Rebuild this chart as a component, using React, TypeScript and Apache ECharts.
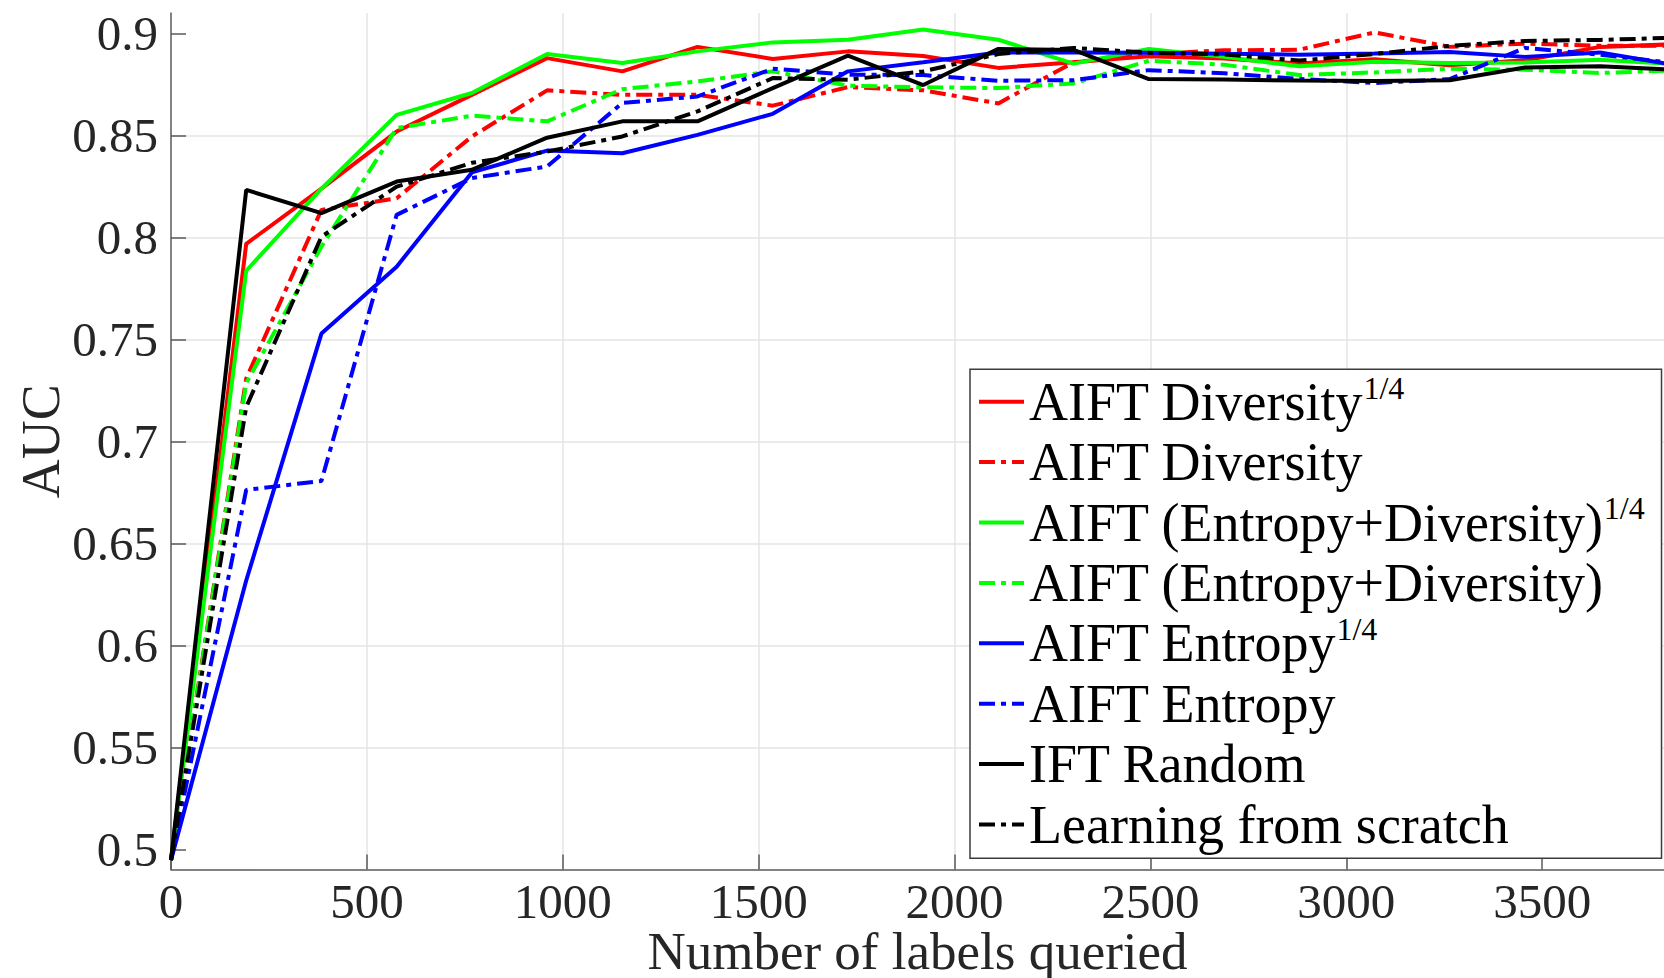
import React, { useEffect, useRef } from "react";
import * as echarts from "echarts";

// x values: number of labels queried
const labelsQueried = [0, 192, 384, 576, 768, 960, 1152, 1344, 1536, 1728, 1920, 2112, 2304, 2496, 2688, 2880, 3072, 3264, 3456, 3648, 3840];

const aiftDiversityQuarter = [0.495, 0.797, 0.824, 0.852, 0.870, 0.888, 0.8815, 0.8935, 0.8876, 0.8913, 0.889, 0.8832, 0.886, 0.8889, 0.8878, 0.8853, 0.8874, 0.8845, 0.8869, 0.8935, 0.8948];
const aiftDiversity = [0.495, 0.731, 0.8136, 0.8193, 0.8496, 0.8722, 0.870, 0.870, 0.8647, 0.8738, 0.8722, 0.8658, 0.886, 0.890, 0.8918, 0.8921, 0.9006, 0.8935, 0.8951, 0.894, 0.894];
const aiftEntDivQuarter = [0.495, 0.7838, 0.824, 0.8602, 0.8709, 0.890, 0.8856, 0.8913, 0.8957, 0.897, 0.902, 0.897, 0.8853, 0.8925, 0.8886, 0.884, 0.8862, 0.8856, 0.8859, 0.8872, 0.885];
const aiftEntDiv = [0.495, 0.7287, 0.7956, 0.8537, 0.8598, 0.857, 0.8728, 0.8766, 0.8815, 0.8745, 0.8737, 0.8733, 0.8756, 0.8867, 0.8848, 0.8797, 0.881, 0.8828, 0.8823, 0.8807, 0.882];
const aiftEntropyQuarter = [0.495, 0.632, 0.753, 0.7858, 0.832, 0.8427, 0.8414, 0.8504, 0.8607, 0.8815, 0.886, 0.8907, 0.8907, 0.8906, 0.8901, 0.8897, 0.8902, 0.891, 0.8886, 0.8908, 0.8845];
const aiftEntropy = [0.495, 0.6764, 0.6808, 0.8112, 0.8292, 0.8349, 0.866, 0.8692, 0.8828, 0.8799, 0.8797, 0.8769, 0.8772, 0.8821, 0.8806, 0.8778, 0.8758, 0.8777, 0.893, 0.8897, 0.8855];
const iftRandom = [0.495, 0.8234, 0.812, 0.8275, 0.8333, 0.849, 0.857, 0.857, 0.8733, 0.8892, 0.8748, 0.8925, 0.892, 0.8777, 0.8775, 0.877, 0.8768, 0.8771, 0.8834, 0.884, 0.8823];
const learningFromScratch = [0.495, 0.717, 0.8005, 0.825, 0.8367, 0.8422, 0.8496, 0.8619, 0.8782, 0.8774, 0.8815, 0.890, 0.893, 0.8906, 0.8898, 0.8868, 0.890, 0.894, 0.8964, 0.8969, 0.898];

const seriesNames = [
  "AIFT Diversity^1/4",
  "AIFT Diversity",
  "AIFT (Entropy+Diversity)^1/4",
  "AIFT (Entropy+Diversity)",
  "AIFT Entropy^1/4",
  "AIFT Entropy",
  "IFT Random",
  "Learning from scratch",
];
const seriesValues = [
  aiftDiversityQuarter,
  aiftDiversity,
  aiftEntDivQuarter,
  aiftEntDiv,
  aiftEntropyQuarter,
  aiftEntropy,
  iftRandom,
  learningFromScratch,
];

const xTickValues = [0, 500, 1000, 1500, 2000, 2500, 3000, 3500];
const yTickValues = [0.5, 0.55, 0.6, 0.65, 0.7, 0.75, 0.8, 0.85, 0.9];

const xAxisTitle = "Number of labels queried";
const yAxisTitle = "AUC";

const SERIF = "'Liberation Serif', 'Times New Roman', serif";

export default function App() {
  const ref = useRef<HTMLDivElement>(null);

  useEffect(() => {
    if (!ref.current) return;
    const chart = echarts.init(ref.current, undefined, { renderer: "svg" });

    const colors = ["#ff0000", "#ff0000", "#00ff00", "#00ff00", "#0000ff", "#0000ff", "#000000", "#000000"];
    const dashDot = [16, 6, 5, 6];
    const styles: any[] = ["solid", dashDot, "solid", dashDot, "solid", dashDot, "solid", dashDot];

    const series = seriesNames.map((name, i) => ({
      type: "line",
      name,
      data: labelsQueried.map((x, j) => [x, seriesValues[i][j]]),
      symbol: "none",
      showSymbol: false,
      clip: true,
      lineStyle: { color: colors[i], width: 4, type: styles[i] },
      itemStyle: { color: colors[i] },
      emphasis: { disabled: true },
    }));

    const axisColor = "#5a5a5a";
    const gridColor = "#e4e4e4";

    const option: any = {
      animation: false,
      backgroundColor: "#ffffff",
      grid: {
        left: 171,
        right: 0,
        top: 13,
        bottom: 108.5,
        containLabel: false,
        outerBoundsMode: "none",
      },
      xAxis: {
        type: "value",
        min: 0,
        max: 3811,
        name: xAxisTitle,
        nameLocation: "middle",
        nameGap: 61,
        nameMoveOverlap: false,
        nameTextStyle: { fontFamily: SERIF, fontSize: 53, lineHeight: 40, color: "#262626" },
        axisLine: { show: true, lineStyle: { color: axisColor, width: 1.5 } },
        axisTick: {
          show: true,
          inside: true,
          length: 15,
          customValues: xTickValues,
          lineStyle: { color: axisColor, width: 1.5 },
        },
        axisLabel: {
          customValues: xTickValues,
          formatter: (v: number) => String(v),
          fontFamily: SERIF,
          fontSize: 49,
          lineHeight: 38,
          color: "#262626",
          margin: 13,
        },
        splitLine: {
          show: true,
          showMinLine: false,
          showMaxLine: false,
          lineStyle: { color: gridColor, width: 1.5 },
        },
      },
      yAxis: {
        type: "value",
        min: 0.4904,
        max: 0.9101,
        name: yAxisTitle,
        nameLocation: "middle",
        nameGap: 103,
        nameMoveOverlap: false,
        nameRotate: 90,
        nameTextStyle: { fontFamily: SERIF, fontSize: 54, color: "#262626" },
        axisLine: { show: true, lineStyle: { color: axisColor, width: 1.5 } },
        axisTick: {
          show: true,
          inside: true,
          length: 15,
          customValues: yTickValues,
          lineStyle: { color: axisColor, width: 1.5 },
        },
        axisLabel: {
          customValues: yTickValues,
          formatter: (v: number) => String(v),
          fontFamily: SERIF,
          fontSize: 49,
          color: "#262626",
          margin: 13,
          padding: [0, 0, 8, 0],
        },
        splitLine: {
          show: true,
          showMinLine: false,
          showMaxLine: false,
          lineStyle: { color: gridColor, width: 1.5 },
        },
      },
      legend: {
        show: true,
        orient: "vertical",
        left: 977,
        top: 371.5,
        padding: 0,
        itemGap: 0,
        itemWidth: 45,
        itemHeight: 14,
        selectedMode: false,
        z: 60,
        itemStyle: { color: "rgba(0,0,0,0)", borderWidth: 0, opacity: 0 },
        lineStyle: { width: 4 },
        data: seriesNames,
        formatter: (name: string) => {
          const parts = name.split("^");
          if (parts.length > 1) return `{t|${parts[0]}}{s|${parts[1]}}`;
          return `{t|${parts[0]}}`;
        },
        textStyle: {
          fontFamily: SERIF,
          fontSize: 54,
          color: "#000000",
          lineHeight: 60.4,
          rich: {
            t: { fontFamily: SERIF, fontSize: 54, color: "#000000", lineHeight: 60.4 },
            s: { fontFamily: SERIF, fontSize: 32, color: "#000000", lineHeight: 36, verticalAlign: "top" },
          },
        },
      },
      graphic: [
        {
          type: "rect",
          z: 50,
          shape: { x: 970, y: 369.3, width: 691.5, height: 489 },
          style: { fill: "#ffffff", stroke: "#3c3c3c", lineWidth: 1.5 },
          silent: true,
        },
      ],
      series,
    };

    chart.setOption(option);
    return () => {
      chart.dispose();
    };
  }, []);

  return (
    <div
      ref={ref}
      style={{ position: "fixed", left: 0, top: 0, width: 1664, height: 978, background: "#fff" }}
    />
  );
}
